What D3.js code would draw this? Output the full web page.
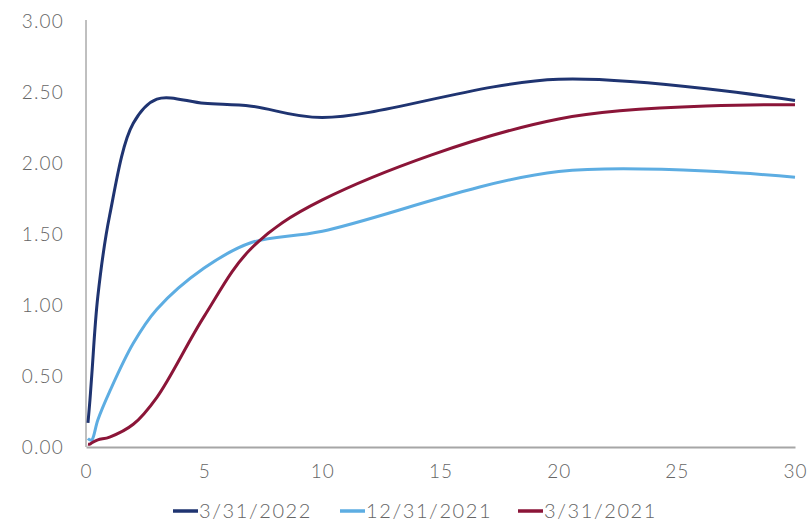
<!DOCTYPE html>
<html>
<head>
<meta charset="utf-8">
<script src="https://cdn.jsdelivr.net/npm/d3@7"></script>
<style>
  html, body { margin: 0; padding: 0; background: #fff; }
  svg { display: block; }
  text { font-family: Lato, "Open Sans", sans-serif; font-weight: 300; fill: #666; }
</style>
</head>
<body>
<svg id="chart" width="810" height="521"></svg>
<script>
// Treasury maturities in years (1M, 2M, 3M, 6M, 1Y, 2Y, 3Y, 5Y, 7Y, 10Y, 20Y, 30Y)
const maturities = [1/12, 2/12, 0.25, 0.5, 1, 2, 3, 5, 7, 10, 20, 30];

// Yields (%) per curve date
const yields_2022_03_31 = [0.17, 0.33, 0.52, 1.06, 1.63, 2.28, 2.45, 2.42, 2.40, 2.32, 2.59, 2.44];
const yields_2021_12_31 = [0.06, 0.05, 0.05, 0.19, 0.39, 0.73, 0.97, 1.26, 1.44, 1.52, 1.94, 1.90];
const yields_2021_03_31 = [0.02, 0.02, 0.03, 0.05, 0.07, 0.16, 0.35, 0.92, 1.40, 1.74, 2.31, 2.41];

const seriesNames = ["3/31/2022", "12/31/2021", "3/31/2021"];
const seriesColors = ["#1f3471", "#5dade2", "#8b1538"];
const seriesValues = [yields_2022_03_31, yields_2021_12_31, yields_2021_03_31];

const xTicks = [0, 5, 10, 15, 20, 25, 30];
const yTicks = [0, 0.5, 1.0, 1.5, 2.0, 2.5, 3.0];

const svg = d3.select("#chart");
const margin = { left: 86, right: 15, top: 21, bottom: 74 };
const W = 810, H = 521;

const x = d3.scaleLinear().domain([0, 30]).range([margin.left, W - margin.right]);
const y = d3.scaleLinear().domain([0, 3]).range([H - margin.bottom, margin.top]);

// Y axis: line plus labels
const yAxis = d3.axisLeft(y).tickValues(yTicks).tickFormat(d3.format(".2f")).tickSize(0).tickPadding(22);
const gy = svg.append("g").attr("transform", `translate(${x(0)},0)`).call(yAxis);
gy.select(".domain").attr("stroke", "#808080").attr("stroke-width", 1).attr("d", `M0,${y(0)}V${y(3) - 1}`);
gy.selectAll("text").style("font-size", "19px").style("letter-spacing", "1.2px").attr("fill", "#666");

// X axis
const xAxis = d3.axisBottom(x).tickValues(xTicks).tickFormat(d3.format("d")).tickSize(0).tickPadding(18);
const gx = svg.append("g").attr("transform", `translate(0,${y(0)})`).call(xAxis);
gx.select(".domain").attr("stroke", "#a6a6a6").attr("stroke-width", 2);
gx.selectAll("text").style("font-size", "19px").style("letter-spacing", "1px").attr("fill", "#666");

// Curves
const line = d3.line()
  .x((d, i) => x(maturities[i]))
  .y(d => y(d))
  .curve(d3.curveCatmullRom.alpha(0.5));

seriesValues.forEach((vals, k) => {
  svg.append("path")
    .datum(vals)
    .attr("fill", "none")
    .attr("stroke", seriesColors[k])
    .attr("stroke-width", 3)
    .attr("d", line);
});

// Legend
const legendY = 511;
const legendX = [173, 340, 518];
seriesNames.forEach((name, k) => {
  const g = svg.append("g").attr("transform", `translate(${legendX[k]},${legendY})`);
  g.append("line").attr("x1", 0).attr("x2", 25).attr("y1", 0).attr("y2", 0)
    .attr("stroke", seriesColors[k]).attr("stroke-width", 3.5);
  g.append("text").attr("x", 26).attr("y", 0).attr("dy", "0.35em")
    .style("font-size", "20px").style("letter-spacing", "1.6px").attr("fill", "#666")
    .text(name);
});
</script>
</body>
</html>
